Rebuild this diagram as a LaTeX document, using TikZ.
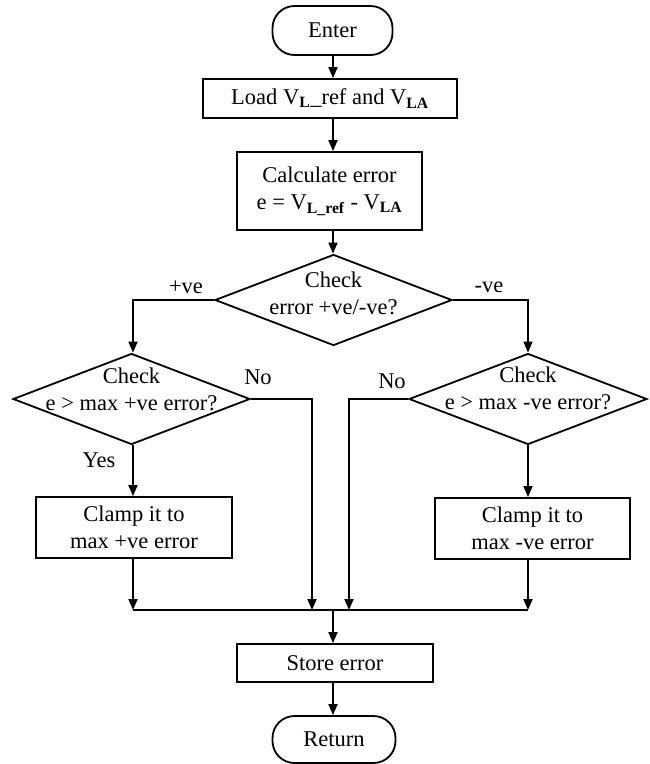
\documentclass[tikz,border=0pt]{standalone}
\usepackage{fontspec}
\setmainfont{Liberation Serif}
\usetikzlibrary{shapes.geometric,arrows.meta}
\newcommand{\sbf}[1]{\textsubscript{\textbf{#1}}}
\begin{document}
\begin{tikzpicture}[x=1pt,y=-1pt,
  every node/.style={font=\fontsize{22.5}{27}\selectfont},
  box/.style={draw,line width=1.8pt,rectangle,inner sep=0pt,align=center},
  term/.style={draw,line width=1.8pt,rectangle,rounded corners=22pt,inner sep=0pt},
  dia/.style={draw,line width=1.8pt,diamond,inner sep=0pt,aspect=2.6},
  conn/.style={line width=1.8pt,-{Triangle[length=11pt,width=9pt]}},
  wire/.style={line width=1.8pt},
  lbl/.style={inner sep=0pt}]
\useasboundingbox (0,0) rectangle (650,764);
\fill[white] (0,0) rectangle (650,764);

\node[term,minimum width=120,minimum height=49] (enter) at (332.5,30.5) {Enter};
\node[box,minimum width=254,minimum height=39] (load) at (330,98.5) {Load V\sbf{L}\_ref and V\sbf{LA}};
\node[box,minimum width=185,minimum height=78] (calc) at (329.5,191) {Calculate error\\e = V\sbf{L\_ref} - V\sbf{LA}};
\node[dia,minimum width=237,minimum height=91,
  label={[align=center,inner sep=0pt,yshift=7pt]center:Check\\error +ve/-ve?}] (d1) at (333.5,300) {};
\node[dia,minimum width=237,minimum height=91,
  label={[align=center,inner sep=0pt,yshift=10pt]center:Check\\e > max +ve error?}] (d2) at (131.5,399) {};
\node[dia,minimum width=238,minimum height=91,
  label={[align=center,inner sep=0pt,yshift=11pt]center:Check\\e > max -ve error?}] (d3) at (528,399) {};
\node[box,minimum width=196,minimum height=61] (c1) at (134,527.5) {Clamp it to\\max +ve error};
\node[box,minimum width=195,minimum height=61] (c2) at (532.5,528.5) {Clamp it to\\max -ve error};
\node[box,minimum width=196,minimum height=38] (store) at (335,663) {Store error};
\node[term,minimum width=123,minimum height=47] (ret) at (334,739.5) {Return};

\coordinate (m1) at (133,610);
\coordinate (m2) at (312,610);
\coordinate (m3) at (349,610);
\coordinate (m4) at (528,610);
\coordinate (mc) at (333,610);

\draw[conn] (enter.south -| mc) -- (load.north -| mc);
\draw[conn] (load.south -| mc) -- (calc.north -| mc);
\draw[conn] (calc.south -| mc) -- (d1.north -| mc);
\draw[conn] (d1.west) -| (d2.north -| m1);
\draw[conn] (d1.east) -| (d3.north);
\draw[conn] (d2.south -| m1) -- (c1.north -| m1);
\draw[conn] (d3.south) -- (d3.south |- c2.north);
\draw[conn] (d2.east) -| (m2);
\draw[conn] (d3.west) -| (m3);
\draw[conn] (c1.south -| m1) -- (m1);
\draw[conn] (c2.south -| m4) -- (m4);
\draw[wire] (m1) -- (m4);
\draw[conn] (mc) -- (store.north -| mc);
\draw[conn] (store.south -| mc) -- (ret.north -| mc);

\node[lbl] (lpos) at (186,287) {+ve};
\node[lbl] (lneg) at (489,287) {-ve};
\node[lbl] (lno1) at (258,377) {No};
\node[lbl] (lno2) at (392,381) {No};
\node[lbl] (lyes) at (99,460) {Yes};
\end{tikzpicture}
\end{document}
